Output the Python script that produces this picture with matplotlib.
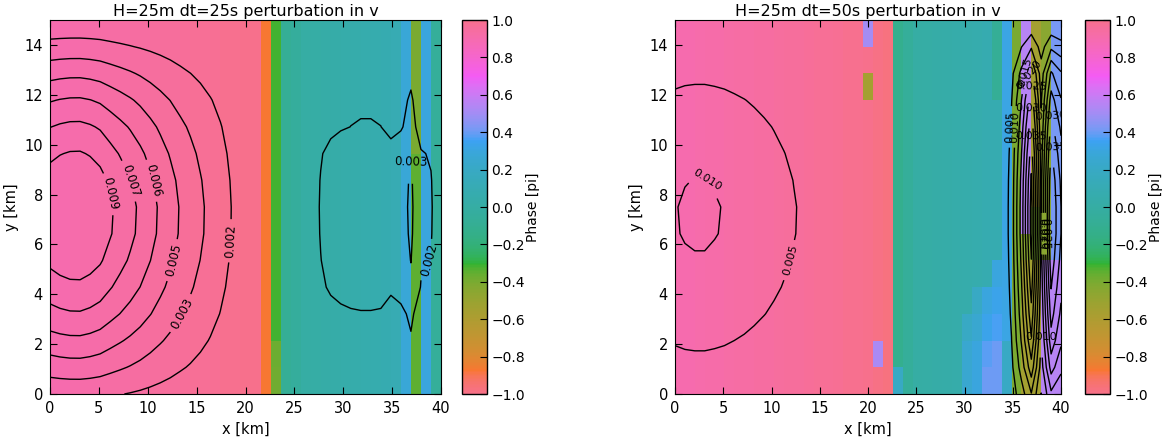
import numpy as np
import matplotlib
matplotlib.use("Agg")
import matplotlib.pyplot as plt
from matplotlib.colors import ListedColormap
import seaborn as sns

# ---------------- data ----------------
x_nodes = np.linspace(0, 40, 40)   # km
y_nodes = np.linspace(0, 15, 15)   # km

# y-profile of the main (left) amplitude lobe, one value per y node
g_main = [0.18, 0.367, 0.537, 0.695, 0.822, 0.92, 0.985, 0.995, 0.95, 0.86,
          0.739, 0.583, 0.394, 0.195, 0.03]

# ---- panel 1 (dt = 25 s) ----
f1_main = [0.0101, 0.0104, 0.01058, 0.0106, 0.01035, 0.00995, 0.00925, 0.0086, 0.00796, 0.00728,
           0.00654, 0.00581, 0.00511, 0.00442, 0.00383, 0.00324, 0.00267, 0.00211, 0.00155, 0.00099,
           0.00045, 0.0001, 0, 0, 0, 0, 0, 0, 0, 0,
           0, 0, 0, 0, 0, 0, 0, 0, 0, 0]
g1_east = [0.2, 0.3, 0.42, 0.52, 0.8, 0.92, 0.98, 1.0, 0.97, 0.88,
           0.58, 0.5, 0.38, 0.25, 0.15]
f1_east = [0, 0, 0, 0, 0, 0, 0, 0, 0, 0,
           0, 0, 0, 0, 0, 0, 0, 0, 0, 0,
           0, 0, 0, 0, 0, 0, 0.0009, 0.0016, 0.0021, 0.0024,
           0.0026, 0.0027, 0.0027, 0.0026, 0.0021, 0.0024, 0.0033, 0.0018, 0.0016, 0.0008]
levels1 = [0.0015, 0.003, 0.0045, 0.006, 0.0075, 0.009]
labels1 = ['0.002', '0.003', '0.005', '0.006', '0.007', '0.009']

pink_ramp = [0.90, 0.905, 0.91, 0.915, 0.92, 0.925, 0.93, 0.935, 0.94, 0.945,
             0.95, 0.955, 0.96, 0.965, 0.97, 0.975, 0.98, 0.985, 0.99, 0.995]
phase1_cols = pink_ramp + [0.999, -0.87, -0.32, -0.08, -0.04, 0.0, 0.01, 0.02, 0.03, 0.04,
                           0.05, 0.06, 0.07, 0.08, 0.10, 0.28, -0.35, 0.30, -0.06]
# (row, column, phase) cells that differ from their column value
phase1_cells = [(0, 22, -0.38), (1, 22, -0.37),
                (9, 36, -0.4), (10, 36, -0.4), (11, 36, -0.4), (12, 36, -0.4), (13, 36, -0.4)]

# ---- panel 2 (dt = 50 s) ----
f2_main = [0.0099, 0.0104, 0.0106, 0.0106, 0.0103, 0.0099, 0.0093, 0.0087, 0.0080, 0.0073,
           0.0066, 0.0059, 0.0052, 0.0046, 0.0040, 0.0034, 0.0028, 0.0022, 0.0017, 0.0012,
           0.0008, 0.0004, 0.0002, 0, 0, 0, 0, 0, 0, 0,
           0, 0, 0, 0, 0, 0, 0, 0, 0, 0]
g2_east = [0.35, 0.55, 0.7, 0.8, 0.88, 0.95, 1.0, 1.0, 0.97, 0.9,
           0.8, 0.68, 0.52, 0.22, 0.0]
f2_east = [0, 0, 0, 0, 0, 0, 0, 0, 0, 0,
           0, 0, 0, 0, 0, 0, 0, 0, 0, 0,
           0, 0, 0, 0, 0, 0, 0, 0, 0, 0,
           0, 0, 0, 0.001, 0.007, 0.022, 0.042, 0.014, 0.040, 0.030]
levels2 = [0.005, 0.010, 0.015, 0.020, 0.025, 0.030, 0.035, 0.040]
labels2 = ['0.005', '0.010', '0.015', '0.020', '0.025', '0.030', '0.035', '0.040']
labelled2 = [0.005, 0.010, 0.015, 0.020, 0.025, 0.030, 0.035]

phase2_cols = pink_ramp + [-0.99, -0.97, -0.12, -0.06, 0.0, 0.01, 0.02, 0.03, 0.04, 0.05,
                           0.06, 0.08, 0.08, 0.32, -0.40, 0.55, -0.55, -0.45, 0.42]
phase2_cells = [(13, 19, 0.50), (11, 19, -0.55), (1, 20, 0.52),
                (0, 22, 0.2),
                (0, 29, 0.25), (1, 29, 0.25), (2, 29, 0.2),
                (0, 30, 0.30), (1, 30, 0.30), (2, 30, 0.25), (3, 30, 0.2),
                (0, 31, 0.40), (1, 31, 0.38), (2, 31, 0.33), (3, 31, 0.30),
                (0, 32, 0.40), (1, 32, 0.40), (2, 32, 0.36), (3, 32, 0.33), (4, 32, 0.30),
                (11, 32, -0.08), (12, 32, -0.08), (13, 32, -0.08),
                (0, 33, 0.2), (1, 33, 0.2),
                (0, 35, -0.55), (1, 35, -0.55), (2, 35, -0.55), (3, 35, -0.55), (4, 35, -0.55),
                (5, 35, -0.45),
                (5, 36, -0.4), (6, 36, -0.4),
                (0, 37, 0.55), (1, 37, 0.55), (2, 37, 0.55), (3, 37, 0.55), (4, 37, 0.55),
                (0, 38, 0.55), (1, 38, 0.55), (2, 38, 0.55), (3, 38, 0.55), (4, 38, 0.55)]

titles = ["H=25m dt=25s perturbation in v", "H=25m dt=50s perturbation in v"]
cbar_ticks = [-1.0, -0.8, -0.6, -0.4, -0.2, 0.0, 0.2, 0.4, 0.6, 0.8, 1.0]


def build_phase(cols, cells):
    ph = np.tile(np.array(cols, dtype=float), (len(y_nodes) - 1, 1))
    for r, c, v in cells:
        ph[r, c] = v
    return ph


amp1 = np.outer(g_main, f1_main) + np.outer(g1_east, f1_east)
amp2 = np.outer(g_main, f2_main) + np.outer(g2_east, f2_east)
phase1 = build_phase(phase1_cols, phase1_cells)
phase2 = build_phase(phase2_cols, phase2_cells)

# ---------------- plot ----------------
cmap = ListedColormap(sns.husl_palette(256))
plt.rcParams['font.family'] = ['DejaVu Sans']

W, H = 1162, 440
fig = plt.figure(figsize=(W / 100, H / 100), dpi=100, facecolor='white')

panels = [
    (amp1, phase1, levels1, labels1, levels1, 8.5, [50, 391], [462, 25]),
    (amp2, phase2, levels2, labels2, labelled2, 8, [675, 386], [1085, 25]),
]
bottom_px, height_px = 46, 374

for k, (amp, ph, lev, labs, lab_lev, lab_fs, axpos, cpos) in enumerate(panels):
    ax = fig.add_axes([axpos[0] / W, bottom_px / H, axpos[1] / W, height_px / H])
    cax = fig.add_axes([cpos[0] / W, bottom_px / H, cpos[1] / W, height_px / H])
    mesh = ax.pcolormesh(x_nodes, y_nodes, ph, cmap=cmap, vmin=-1, vmax=1,
                         shading='flat', antialiased=False, linewidth=0)
    cs = ax.contour(x_nodes, y_nodes, amp, levels=lev, colors='k', linewidths=1.0)
    fmt = dict(zip(cs.levels, labs))
    ax.clabel(cs, levels=[l for l in cs.levels if any(abs(l - m) < 1e-9 for m in lab_lev)],
              fmt=fmt, fontsize=lab_fs, inline=True)
    ax.set_xlim(0, 40)
    ax.set_ylim(0, 15)
    ax.set_xticks(np.arange(0, 41, 5))
    ax.set_yticks(np.arange(0, 15, 2))
    ax.tick_params(direction='in', top=True, right=True, labelsize=10.5, length=5, pad=5)
    ax.set_xlabel('x [km]', fontsize=10.5)
    ax.set_ylabel('y [km]', fontsize=10.5)
    ax.set_title(titles[k], fontsize=11.5, pad=3)
    cb = fig.colorbar(mesh, cax=cax, ticks=cbar_ticks)
    cb.ax.tick_params(direction='in', labelsize=10, length=5, pad=3)
    cb.set_label('Phase [pi]', fontsize=10, labelpad=1)
    cb.outline.set_linewidth(1.0)

fig.savefig('out.png', dpi=100, facecolor='white')
